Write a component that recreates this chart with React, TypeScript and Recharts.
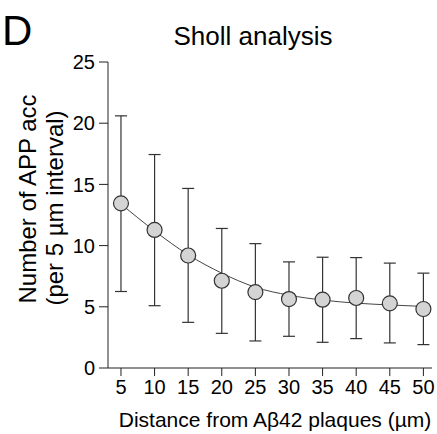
import React from "react";
import { ComposedChart, Line, Scatter, XAxis, YAxis, ErrorBar } from "recharts";

const distances = [5, 10, 15, 20, 25, 30, 35, 40, 45, 50];
const means = [13.45, 11.28, 9.19, 7.13, 6.2, 5.63, 5.58, 5.72, 5.28, 4.82];
const upper = [20.6, 17.44, 14.67, 11.4, 10.16, 8.67, 9.05, 9.02, 8.57, 7.75];
const lower = [6.25, 5.09, 3.73, 2.83, 2.21, 2.59, 2.1, 2.4, 2.05, 1.91];
const fitCurve = [13.4, 11.2, 9.25, 7.75, 6.6, 5.95, 5.55, 5.3, 5.15, 5.03];
const yTicks = [0, 5, 10, 15, 20, 25];

const data = distances.map((x, i) => ({
  x,
  mean: means[i],
  err: [means[i] - lower[i], upper[i] - means[i]],
  fit: fitCurve[i],
}));

const FONT = "Liberation Sans, Arial, Helvetica, sans-serif";

const Dot = (props: any) => (
  <circle cx={props.cx} cy={props.cy} r={7.5} fill="#d4d4d4" stroke="#333" strokeWidth={1.2} />
);

export default function App() {
  return (
    <div style={{ position: "absolute", left: 0, top: 0, width: 437, height: 434, background: "#fff" }}>
      <ComposedChart
        width={437}
        height={434}
        data={data}
        margin={{ top: 62, right: 5, bottom: 6, left: 0 }}
      >
        <XAxis
          type="number"
          dataKey="x"
          domain={[3.07, 51.28]}
          ticks={distances}
          allowDataOverflow
          tickSize={8}
          tickMargin={4}
          height={60}
          stroke="#222"
          tick={{ fontSize: 20, fill: "#000", fontFamily: FONT }}
          interval={0}
        />
        <YAxis
          type="number"
          domain={[0, 25]}
          ticks={yTicks}
          width={108}
          tickSize={9}
          tickMargin={4}
          stroke="#222"
          tick={{ fontSize: 20, fill: "#000", fontFamily: FONT }}
          interval={0}
        />
        <Line
          dataKey="fit"
          type="monotone"
          dot={false}
          stroke="#444"
          strokeWidth={1}
          isAnimationActive={false}
        />
        <Scatter dataKey="mean" shape={Dot} isAnimationActive={false}>
          <ErrorBar dataKey="err" direction="y" width={6} stroke="#333" strokeWidth={1.2} />
        </Scatter>
      </ComposedChart>
      <svg
        width={437}
        height={434}
        style={{ position: "absolute", left: 0, top: 0, pointerEvents: "none" }}
        fontFamily={FONT}
      >
        <text x={2} y={45} fontSize={42} fill="#000">D</text>
        <text x={253} y={45} fontSize={26} textAnchor="middle" fill="#000">Sholl analysis</text>
        <text transform="translate(36,199) rotate(-90)" fontSize={24} textAnchor="middle" fill="#000">
          Number of APP acc
        </text>
        <text transform="translate(63,208) rotate(-90)" fontSize={24} textAnchor="middle" fill="#000">
          (per 5 µm interval)
        </text>
        <text x={275} y={427} fontSize={21} textAnchor="middle" fill="#000">
          Distance from Aβ42 plaques (µm)
        </text>
      </svg>
    </div>
  );
}
